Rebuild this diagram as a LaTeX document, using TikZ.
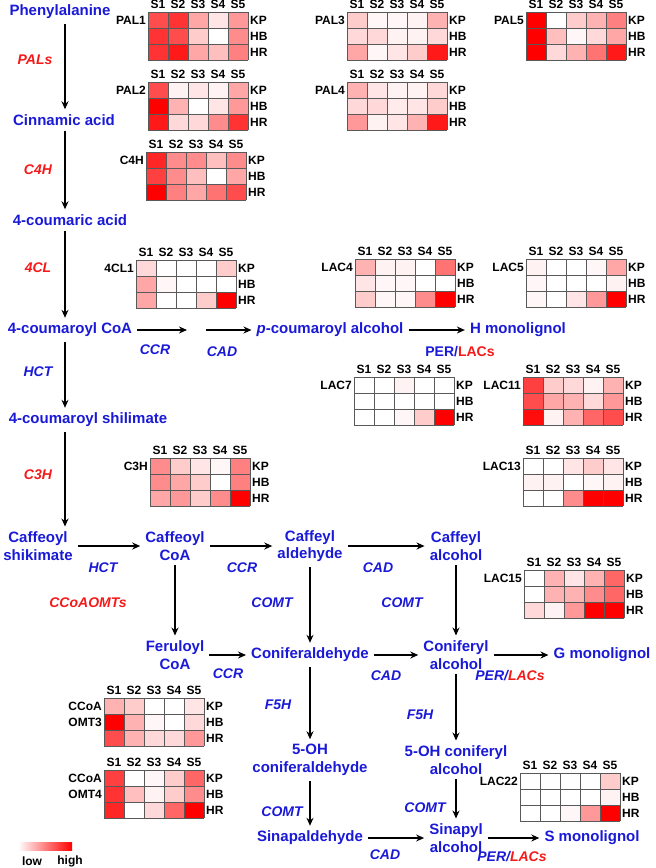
\documentclass[tikz,border=0pt]{standalone}
\usepackage{fontspec}
\setmainfont{Liberation Sans}
\usetikzlibrary{arrows.meta}
\definecolor{tblue}{RGB}{25,25,215}
\definecolor{tred}{RGB}{245,25,25}
\tikzset{
 met/.style={text=tblue, font=\bfseries\fontsize{15}{17.5}\selectfont, align=center, inner sep=2pt},
 enzr/.style={text=tred, font=\bfseries\itshape\fontsize{14}{16}\selectfont, inner sep=1pt},
 enzb/.style={text=tblue, font=\bfseries\itshape\fontsize{14}{16}\selectfont, inner sep=1pt},
 flow/.style={-{Stealth[length=8pt,width=7pt]}, line width=1.5pt, shorten <=3pt, shorten >=3pt},
 hmtxt/.style={font=\bfseries\fontsize{12}{16}\selectfont, inner sep=1pt},
 hmgrid/.style={draw=black!65, line width=0.6pt},
}
\newcommand{\hmap}[5]{%
 \begin{scope}[shift={(#2,#3)}]
  \foreach \hv [count=\hi from 0] in {#5} {%
   \pgfmathtruncatemacro{\hmc}{mod(\hi,5)}%
   \pgfmathtruncatemacro{\hmr}{div(\hi,5)}%
   \fill[red!\hv!white] (\hmc*20,\hmr*16) rectangle ++(20,16);
  }
  \foreach \k in {0,...,5} \draw[hmgrid] (\k*20,0) -- (\k*20,48);
  \foreach \k in {0,...,3} \draw[hmgrid] (0,\k*16) -- (100,\k*16);
  \foreach \k in {1,...,5} \node[hmtxt] at (\k*20-10,-8) {S\k};
  \node[hmtxt,anchor=west] (#1kp) at (101,8) {KP};
  \node[hmtxt,anchor=west] (#1hb) at (101,24) {HB};
  \node[hmtxt,anchor=west] (#1hr) at (101,40) {HR};
  \node[hmtxt,anchor=east,align=right] (#1) at (-1,8) {#4};
 \end{scope}}
\begin{document}
\begin{tikzpicture}[x=1pt,y=-1pt]
\useasboundingbox (0,0) rectangle (656,868);
% heatmaps
\hmap{pal1}{148}{12}{PAL1}{70,80,35,10,40, 80,70,20,0,45, 80,90,35,25,50}
\hmap{pal2}{148}{82}{PAL2}{70,5,10,5,35, 100,30,0,10,40, 90,15,15,45,80}
\hmap{pal3}{347}{12}{PAL3}{20,3,3,5,30, 15,15,5,5,15, 35,3,10,20,90}
\hmap{pal4}{347}{82}{PAL4}{30,10,5,5,15, 15,15,8,10,20, 40,5,10,30,90}
\hmap{pal5}{526}{12}{PAL5}{100,0,20,30,50, 100,25,3,15,35, 100,15,30,55,90}
\hmap{c4hm}{146}{152}{C4H}{85,45,45,25,45, 75,45,25,0,35, 100,50,35,55,70}
\hmap{cl1}{136}{260}{4CL1}{15,0,0,0,20, 35,3,0,0,0, 35,0,0,20,100}
\hmap{lac4}{355}{259}{LAC4}{30,5,5,0,55, 10,3,3,0,0, 20,3,3,45,100}
\hmap{lac5}{526}{259}{LAC5}{5,0,0,3,35, 3,0,0,0,5, 3,0,10,40,100}
\hmap{lac7}{354}{377}{LAC7}{0,0,5,0,0, 0,0,0,0,0, 0,0,3,20,100}
\hmap{lac11}{523}{377}{LAC11}{75,20,15,5,30, 70,35,30,15,40, 95,5,30,60,70}
\hmap{c3hm}{150}{458}{C3H}{45,20,10,3,50, 45,35,20,0,50, 35,40,20,45,100}
\hmap{lac13}{523}{458}{LAC13}{0,0,10,20,10, 5,5,0,3,5, 0,0,45,100,100}
\hmap{lac15}{524}{570}{LAC15}{0,30,10,30,60, 0,30,30,45,60, 15,5,40,100,100}
\hmap{omt3}{104}{698}{}{30,20,0,0,10, 100,30,3,0,15, 70,30,15,15,40}
\node[hmtxt,anchor=east,align=right] (omt3l) at (103,714) {CCoA\\OMT3};
\hmap{omt4}{104}{770}{}{75,0,3,20,60, 80,25,5,20,45, 85,0,15,60,100}
\node[hmtxt,anchor=east,align=right] (omt4l) at (103,786) {CCoA\\OMT4};
\hmap{lac22}{520}{773}{LAC22}{0,0,0,0,20, 0,0,0,0,5, 0,0,3,40,100}
% legend
\shade[left color=white, right color=red] (18,842) rectangle (72,850);
\node[hmtxt] (low) at (32,861) {low};
\node[hmtxt] (high) at (70,861) {high};
% left column
\coordinate (ax) at (65,0);
\node[met] (phe) at (60,12) {Phenylalanine};
\node[met] (cin) at (64,120) {Cinnamic acid};
\node[met] (cou) at (70,220) {4-coumaric acid};
\node[met] (coa) at (70,330) {4-coumaroyl CoA};
\node[met] (shi) at (88,420) {4-coumaroyl shilimate};
\node[met] (cafs) at (38,546) {Caffeoyl\\shikimate};
\draw[flow] (phe.south -| ax) -- (cin.north -| ax);
\draw[flow] (cin.south -| ax) -- (cou.north -| ax);
\draw[flow] (cou.south -| ax) -- (coa.north -| ax);
\draw[flow] (coa.south -| ax) -- (shi.north -| ax);
\draw[flow] (shi.south -| ax) -- (cafs.north -| ax);
\node[enzr] (pals) at (35,60) {PALs};
\node[enzr] (c4h) at (38,170) {C4H};
\node[enzr] (fcl) at (38,268) {4CL};
\node[enzb] (hct1) at (38,372) {HCT};
\node[enzr] (c3h) at (38,475) {C3H};
% H row
\coordinate (m1) at (190,330);
\coordinate (m2) at (203,330);
\node[met] (pca) at (330,330) {\textit{p}-coumaroyl alcohol};
\node[met] (hmon) at (518,330) {H monolignol};
\draw[flow] (coa.east) -- (m1);
\draw[flow] (m2) -- (pca.west);
\draw[flow] (pca) -- (hmon);
\node[enzb] (ccr1) at (155,350) {CCR};
\node[enzb] (cad1) at (222,352) {CAD};
\node[font=\bfseries\fontsize{14}{16}\selectfont] (per1) at (460,352) {\textcolor{tblue}{PER/}\textcolor{tred}{LACs}};
% caffeoyl row
\node[met] (cafc) at (175,546) {Caffeoyl\\CoA};
\node[met] (cafa) at (310,546) {Caffeyl\\aldehyde};
\node[met] (cafl) at (456,546) {Caffeyl\\alcohol};
\draw[flow] (cafs) -- (cafc);
\draw[flow] (cafc) -- (cafa);
\draw[flow] (cafa) -- (cafl);
\node[enzb] (hct2) at (103,568) {HCT};
\node[enzb] (ccr2) at (242,568) {CCR};
\node[enzb] (cad2) at (378,568) {CAD};
% feruloyl row
\node[met] (fer) at (175,655) {Feruloyl\\CoA};
\node[met] (cald) at (310,655) {Coniferaldehyde};
\node[met] (calc) at (456,655) {Coniferyl\\alcohol};
\node[met] (gmon) at (602,655) {G monolignol};
\draw[flow] (cafc) -- (fer);
\draw[flow] (cafa) -- (cald);
\draw[flow] (cafl) -- (calc);
\draw[flow] (fer) -- (cald);
\draw[flow] (cald) -- (calc);
\draw[flow] (calc) -- (gmon);
\node[enzr] (ccoa) at (88,603) {CCoAOMTs};
\node[enzb] (comt1) at (272,603) {COMT};
\node[enzb] (comt2) at (402,603) {COMT};
\node[enzb] (ccr3) at (228,674) {CCR};
\node[enzb] (cad3) at (386,676) {CAD};
\node[font=\bfseries\itshape\fontsize{14}{16}\selectfont] (per2) at (510,676) {\textcolor{tblue}{PER/}\textcolor{tred}{LACs}};
% 5-OH row
\node[met] (ohald) at (310,760) {5-OH\\coniferaldehyde};
\node[met] (ohalc) at (456,760) {5-OH coniferyl\\alcohol};
\draw[flow] (cald) -- (ohald);
\draw[flow] (calc) -- (ohalc);
\node[enzb] (f5h1) at (278,705) {F5H};
\node[enzb] (f5h2) at (420,715) {F5H};
% sinapyl row
\node[met] (sald) at (310,838) {Sinapaldehyde};
\node[met] (salc) at (456,838) {Sinapyl\\alcohol};
\node[met] (smon) at (592,838) {S monolignol};
\draw[flow] (ohald) -- (sald);
\draw[flow] (ohalc) -- (salc);
\draw[flow] (sald) -- (salc);
\draw[flow] (salc) -- (smon);
\node[enzb] (comt3) at (282,812) {COMT};
\node[enzb] (comt4) at (425,808) {COMT};
\node[enzb] (cad4) at (385,855) {CAD};
\node[font=\bfseries\itshape\fontsize{14}{16}\selectfont] (per3) at (512,857) {\textcolor{tblue}{PER/}\textcolor{tred}{LACs}};
\end{tikzpicture}
\end{document}
